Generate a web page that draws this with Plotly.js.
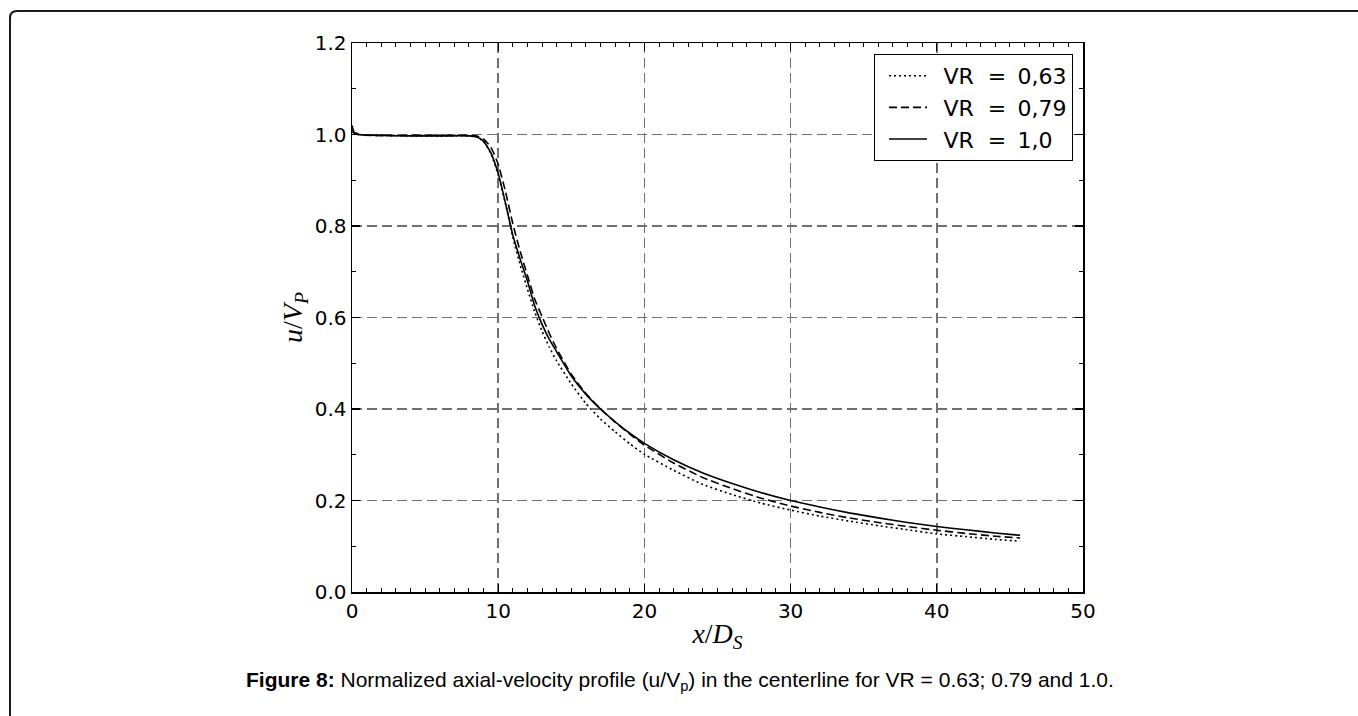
<!DOCTYPE html>
<html>
<head>
<meta charset="utf-8">
<script src="https://cdn.plot.ly/plotly-3.0.1.min.js"></script>
<style>
html,body{margin:0;padding:0;background:#fff;}
#chart{width:1358px;height:716px;}
</style>
</head>
<body>
<div id="chart"></div>
<script>
// ---- data ----
var xVR063 = [0, 0.5, 2, 4, 6, 8, 8.5, 9, 9.5, 10, 10.5, 11, 11.5, 12, 12.5, 13, 13.5, 14, 15, 16, 17, 18, 19, 20, 22, 24, 26, 28, 30, 32, 34, 36, 38, 40, 42, 44, 45.7];
var yVR063 = [1.01, 1.0, 0.998, 0.997, 0.997, 0.997, 0.995, 0.985, 0.958, 0.912, 0.848, 0.775, 0.715, 0.662, 0.612, 0.570, 0.535, 0.505, 0.455, 0.412, 0.378, 0.350, 0.324, 0.301, 0.266, 0.235, 0.213, 0.194, 0.179, 0.166, 0.155, 0.145, 0.136, 0.127, 0.121, 0.115, 0.111];

var xVR079 = [0, 0.5, 2, 4, 6, 8, 8.5, 9, 9.5, 10, 10.5, 11, 11.5, 12, 12.5, 13, 13.5, 14, 15, 16, 17, 18, 19, 20, 22, 24, 26, 28, 30, 32, 34, 36, 38, 40, 42, 44, 45.7];
var yVR079 = [1.005, 0.999, 0.998, 0.998, 0.998, 0.998, 0.997, 0.990, 0.972, 0.935, 0.875, 0.805, 0.745, 0.692, 0.640, 0.602, 0.565, 0.532, 0.476, 0.434, 0.400, 0.371, 0.345, 0.321, 0.282, 0.250, 0.226, 0.205, 0.188, 0.174, 0.162, 0.152, 0.143, 0.135, 0.128, 0.122, 0.118];

var xVR100 = [0, 0.15, 0.5, 2, 4, 6, 8, 8.5, 9, 9.5, 10, 10.5, 11, 11.5, 12, 12.5, 13, 13.5, 14, 15, 16, 17, 18, 19, 20, 22, 24, 26, 28, 30, 32, 34, 36, 38, 40, 42, 44, 45.7];
var yVR100 = [1.02, 1.005, 1.0, 0.998, 0.997, 0.997, 0.997, 0.995, 0.985, 0.960, 0.915, 0.850, 0.780, 0.728, 0.680, 0.625, 0.585, 0.552, 0.525, 0.472, 0.432, 0.400, 0.372, 0.347, 0.325, 0.289, 0.260, 0.237, 0.217, 0.200, 0.186, 0.173, 0.162, 0.152, 0.143, 0.136, 0.129, 0.124];

var seriesNames = ["\u00a0\u2009VR\u00a0\u00a0= \u20090,63", "\u00a0\u2009VR\u00a0\u00a0= \u20090,79", "\u00a0\u2009VR\u00a0\u00a0= \u20091,0"];
var xTickVals = [0, 10, 20, 30, 40, 50];
var yTickVals = [0.0, 0.2, 0.4, 0.6, 0.8, 1.0, 1.2];
var xTitle = "<i>x</i>/<i>D</i><sub><i>S</i></sub>";
var yTitle = "<i>u</i>/<i>V</i><sub><i>P</i></sub>";
var caption = "<b>Figure 8:</b> Normalized axial-velocity profile (u/V<sub>p</sub>) in the centerline for VR = 0.63; 0.79 and 1.0.";

// ---- layout helpers (pixel -> paper) ----
var W = 1358, H = 716;
var L = 352, R = 1083, T = 43, B = 592;
function px(x){ return (x - L) / (R - L); }
function py(y){ return (B - y) / (B - T); }

var traces = [
  {x: xVR063, y: yVR063, name: seriesNames[0], mode: "lines", legendgroup: "a",
   line: {color: "#000", width: 1.6, dash: "2px,3px", shape: "spline", smoothing: 0.5}},
  {x: xVR079, y: yVR079, name: seriesNames[1], mode: "lines", legendgroup: "b",
   line: {color: "#000", width: 1.6, dash: "8px,4px", shape: "spline", smoothing: 0.5}},
  {x: xVR100, y: yVR100, name: seriesNames[2], mode: "lines", legendgroup: "c",
   line: {color: "#000", width: 1.6, shape: "spline", smoothing: 0.5}}
];

var axisCommon = {
  showline: true, linecolor: "#000", linewidth: 1.5, mirror: "allticks",
  ticks: "inside", ticklen: 8, tickwidth: 1.2, tickcolor: "#000",
  showgrid: true, gridcolor: "#707070", gridwidth: 1.5, griddash: "10px,5px",
  zeroline: false,
  tickfont: {family: "DejaVu Sans", size: 20, color: "#000"}
};

var layout = {
  width: W, height: H,
  paper_bgcolor: "#fff", plot_bgcolor: "#fff",
  margin: {l: L, r: W - R, t: T, b: H - B},
  showlegend: true,
  xaxis: Object.assign({}, axisCommon, {
    range: [0, 50], tickvals: xTickVals, ticktext: xTickVals.map(String),
    minor: {dtick: 1, ticks: "inside", ticklen: 4, tickcolor: "#000", tickwidth: 1, showgrid: false},
    title: {text: xTitle, font: {family: "Liberation Serif", size: 28, color: "#000"}, standoff: 2}
  }),
  yaxis: Object.assign({}, axisCommon, {
    range: [0, 1.2], tickvals: yTickVals, ticktext: yTickVals.map(function(v){return v.toFixed(1);}),
    minor: {dtick: 0.1, ticks: "inside", ticklen: 4, tickcolor: "#000", tickwidth: 1, showgrid: false},
    title: {text: yTitle, font: {family: "Liberation Serif", size: 28, color: "#000"}, standoff: 4}
  }),
  legend: {
    x: px(1073), y: py(54), xanchor: "right", yanchor: "top",
    bgcolor: "#fff", bordercolor: "#000", borderwidth: 1,
    font: {family: "DejaVu Sans", size: 22, color: "#000"},
    tracegroupgap: 0, itemwidth: 38, indentation: 9
  },
  annotations: [{
    xref: "paper", yref: "paper", x: px(680), y: py(681), xanchor: "center", yanchor: "middle",
    text: caption, showarrow: false,
    font: {family: "Liberation Sans", size: 21, color: "#000"}
  }],
  shapes: [{
    type: "path", xref: "paper", yref: "paper", layer: "above",
    path: "M " + px(10) + "," + py(730) + " L " + px(10) + "," + py(18) +
          " Q " + px(10) + "," + py(11) + " " + px(17) + "," + py(11) +
          " L " + px(1370) + "," + py(11),
    line: {color: "#1a1a1a", width: 2}
  }]
};

Plotly.newPlot("chart", traces, layout, {displayModeBar: false, staticPlot: true});
</script>
</body>
</html>
